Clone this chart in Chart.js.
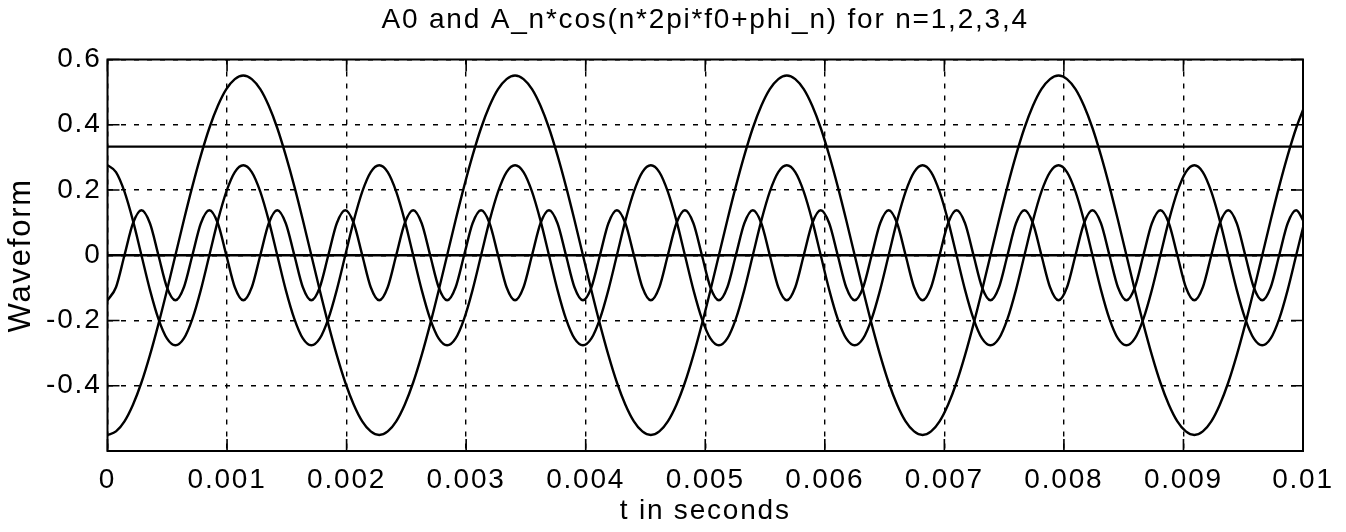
<!DOCTYPE html>
<html>
<head>
<meta charset="utf-8">
<script src="https://cdn.jsdelivr.net/npm/chart.js@4.4.0/dist/chart.umd.min.js"></script>
<style>
  html, body { margin: 0; padding: 0; background: #fff; }
  canvas { display: block; }
</style>
</head>
<body>
<canvas id="wave" width="1346" height="532"></canvas>
<script>
// sample times in microseconds (read along the time axis)
const timesUs = [
  0, 71, 142, 213, 284, 355, 426, 497,
  568, 639, 710, 781, 852, 923, 994, 1065,
  1136, 1207, 1278, 1349, 1420, 1491, 1563, 1634,
  1705, 1776, 1847, 1918, 1989, 2060, 2131, 2202,
  2273, 2344, 2415, 2486, 2557, 2628, 2699, 2770,
  2841, 2912, 2983, 3054, 3125, 3196, 3267, 3338,
  3409, 3480, 3551, 3622, 3693, 3764, 3835, 3906,
  3977, 4048, 4119, 4190, 4261, 4332, 4403, 4474,
  4545, 4616, 4687, 4759, 4830, 4901, 4972, 5043,
  5114, 5185, 5256, 5327, 5398, 5469, 5540, 5611,
  5682, 5753, 5824, 5895, 5966, 6037, 6108, 6179,
  6250, 6321, 6392, 6463, 6534, 6605, 6676, 6747,
  6818, 6889, 6960, 7031, 7102, 7173, 7244, 7315,
  7386, 7457, 7528, 7599, 7670, 7741, 7812, 7884,
  7955, 8026, 8097, 8168, 8239, 8310, 8381, 8452,
  8523, 8594, 8665, 8736, 8807, 8878, 8949, 9020,
  9091, 9162, 9233, 9304, 9375, 9446, 9517, 9588,
  9659, 9730, 9801, 9872, 9943, 10014,
];

// n=1 harmonic
const harmonic1 = [
  -0.551, -0.540, -0.509, -0.458, -0.390, -0.306, -0.211, -0.108,
  0, 0.108, 0.211, 0.306, 0.390, 0.458, 0.509, 0.540,
  0.551, 0.540, 0.509, 0.458, 0.390, 0.306, 0.211, 0.108,
  0, -0.108, -0.211, -0.306, -0.390, -0.458, -0.509, -0.540,
  -0.551, -0.540, -0.509, -0.458, -0.390, -0.306, -0.211, -0.108,
  0, 0.108, 0.211, 0.306, 0.390, 0.458, 0.509, 0.540,
  0.551, 0.540, 0.509, 0.458, 0.390, 0.306, 0.211, 0.108,
  0, -0.108, -0.211, -0.306, -0.390, -0.458, -0.509, -0.540,
  -0.551, -0.540, -0.509, -0.458, -0.390, -0.306, -0.211, -0.108,
  0, 0.108, 0.211, 0.306, 0.390, 0.458, 0.509, 0.540,
  0.551, 0.540, 0.509, 0.458, 0.390, 0.306, 0.211, 0.108,
  0, -0.108, -0.211, -0.306, -0.390, -0.458, -0.509, -0.540,
  -0.551, -0.540, -0.509, -0.458, -0.390, -0.306, -0.211, -0.108,
  0, 0.108, 0.211, 0.306, 0.390, 0.458, 0.509, 0.540,
  0.551, 0.540, 0.509, 0.458, 0.390, 0.306, 0.211, 0.108,
  0, -0.108, -0.211, -0.306, -0.390, -0.458, -0.509, -0.540,
  -0.551, -0.540, -0.509, -0.458, -0.390, -0.306, -0.211, -0.108,
  0, 0.108, 0.211, 0.306, 0.390, 0.458,
];

// n=2 harmonic
const harmonic2 = [
  0.276, 0.255, 0.195, 0.106, 0, -0.106, -0.195, -0.255,
  -0.276, -0.255, -0.195, -0.106, 0, 0.106, 0.195, 0.255,
  0.276, 0.255, 0.195, 0.106, 0, -0.106, -0.195, -0.255,
  -0.276, -0.255, -0.195, -0.106, 0, 0.106, 0.195, 0.255,
  0.276, 0.255, 0.195, 0.106, 0, -0.106, -0.195, -0.255,
  -0.276, -0.255, -0.195, -0.106, 0, 0.106, 0.195, 0.255,
  0.276, 0.255, 0.195, 0.106, 0, -0.106, -0.195, -0.255,
  -0.276, -0.255, -0.195, -0.106, 0, 0.106, 0.195, 0.255,
  0.276, 0.255, 0.195, 0.106, 0, -0.106, -0.195, -0.255,
  -0.276, -0.255, -0.195, -0.106, 0, 0.106, 0.195, 0.255,
  0.276, 0.255, 0.195, 0.106, 0, -0.106, -0.195, -0.255,
  -0.276, -0.255, -0.195, -0.106, 0, 0.106, 0.195, 0.255,
  0.276, 0.255, 0.195, 0.106, 0, -0.106, -0.195, -0.255,
  -0.276, -0.255, -0.195, -0.106, 0, 0.106, 0.195, 0.255,
  0.276, 0.255, 0.195, 0.106, 0, -0.106, -0.195, -0.255,
  -0.276, -0.255, -0.195, -0.106, 0, 0.106, 0.195, 0.255,
  0.276, 0.255, 0.195, 0.106, 0, -0.106, -0.195, -0.255,
  -0.276, -0.255, -0.195, -0.106, 0, 0.106,
];

// n=4 harmonic
const harmonic4 = [
  -0.138, -0.098, 0, 0.098, 0.138, 0.098, 0, -0.098,
  -0.138, -0.098, 0, 0.098, 0.138, 0.098, 0, -0.098,
  -0.138, -0.098, 0, 0.098, 0.138, 0.098, 0, -0.098,
  -0.138, -0.098, 0, 0.098, 0.138, 0.098, 0, -0.098,
  -0.138, -0.098, 0, 0.098, 0.138, 0.098, 0, -0.098,
  -0.138, -0.098, 0, 0.098, 0.138, 0.098, 0, -0.098,
  -0.138, -0.098, 0, 0.098, 0.138, 0.098, 0, -0.098,
  -0.138, -0.098, 0, 0.098, 0.138, 0.098, 0, -0.098,
  -0.138, -0.098, 0, 0.098, 0.138, 0.098, 0, -0.098,
  -0.138, -0.098, 0, 0.098, 0.138, 0.098, 0, -0.098,
  -0.138, -0.098, 0, 0.098, 0.138, 0.098, 0, -0.098,
  -0.138, -0.098, 0, 0.098, 0.138, 0.098, 0, -0.098,
  -0.138, -0.098, 0, 0.098, 0.138, 0.098, 0, -0.098,
  -0.138, -0.098, 0, 0.098, 0.138, 0.098, 0, -0.098,
  -0.138, -0.098, 0, 0.098, 0.138, 0.098, 0, -0.098,
  -0.138, -0.098, 0, 0.098, 0.138, 0.098, 0, -0.098,
  -0.138, -0.098, 0, 0.098, 0.138, 0.098, 0, -0.098,
  -0.138, -0.098, 0, 0.098, 0.138, 0.098,
];

// A0 and the n=3 term (zero) are flat over the whole window
const flatTimes = [0, 0.01];
const levelA0 = [0.333, 0.333];
const harmonic3 = [0, 0];

const xTicks = [0, 0.001, 0.002, 0.003, 0.004, 0.005, 0.006, 0.007, 0.008, 0.009, 0.01];
const yTicks = [-0.4, -0.2, 0, 0.2, 0.4, 0.6];

const FONT = "'Liberation Sans', Arial, Helvetica, sans-serif";

function toPoints(times, values, scale) {
  return times.map((t, i) => ({ x: t * scale, y: values[i] }));
}

function curve(label, points) {
  return {
    label,
    data: points,
    borderColor: "#000",
    borderWidth: 2.4,
    pointRadius: 0,
    cubicInterpolationMode: "monotone",
    showLine: true,
    fill: false,
  };
}

// the old printout font runs wide, so open the letters up a little
const wideText = {
  id: "wideText",
  beforeDraw(chart) {
    chart.ctx.letterSpacing = "1.8px";
  },
};

// box round the plot and MATLAB style inward ticks
const frameTicks = {
  id: "frameTicks",
  afterDatasetsDraw(chart) {
    const { ctx, chartArea: a, scales } = chart;
    ctx.save();
    ctx.setLineDash([]);
    ctx.strokeStyle = "#000";
    ctx.lineWidth = 1.6;
    ctx.beginPath();
    xTicks.forEach((v) => {
      const px = scales.x.getPixelForValue(v);
      ctx.moveTo(px, a.bottom);
      ctx.lineTo(px, a.bottom - 12);
      ctx.moveTo(px, a.top);
      ctx.lineTo(px, a.top + 12);
    });
    yTicks.forEach((v) => {
      const py = scales.y.getPixelForValue(v);
      ctx.moveTo(a.left, py);
      ctx.lineTo(a.left + 12, py);
      ctx.moveTo(a.right, py);
      ctx.lineTo(a.right - 12, py);
    });
    ctx.stroke();
    ctx.lineWidth = 2;
    ctx.strokeRect(a.left, a.top, a.right - a.left, a.bottom - a.top);
    ctx.restore();
  },
};

new Chart(document.getElementById("wave"), {
  type: "scatter",
  data: {
    datasets: [
      curve("A0", toPoints(flatTimes, levelA0, 1)),
      curve("n=1", toPoints(timesUs, harmonic1, 1e-6)),
      curve("n=2", toPoints(timesUs, harmonic2, 1e-6)),
      curve("n=3", toPoints(flatTimes, harmonic3, 1)),
      curve("n=4", toPoints(timesUs, harmonic4, 1e-6)),
    ],
  },
  options: {
    responsive: false,
    animation: false,
    devicePixelRatio: 1,
    layout: { padding: { left: 0, right: 43, top: 0, bottom: 0 } },
    plugins: {
      legend: { display: false },
      tooltip: { enabled: false },
      title: {
        display: true,
        fullSize: false,
        text: "A0 and A_n*cos(n*2pi*f0+phi_n) for n=1,2,3,4",
        color: "#000",
        font: { family: FONT, size: 28, weight: "normal", lineHeight: 1.2 },
        padding: { top: 3.2, bottom: 22.7 },
      },
    },
    scales: {
      x: {
        type: "linear",
        min: 0,
        max: 0.01,
        afterFit: (scale) => { scale.height = 81; },
        afterBuildTicks: (scale) => { scale.ticks = xTicks.map((v) => ({ value: v })); },
        ticks: {
          color: "#000",
          padding: 12,
          maxRotation: 0,
          autoSkip: false,
          font: { family: FONT, size: 28 },
          callback: (v) => String(Number(v.toFixed(3))),
        },
        grid: { color: "#000", lineWidth: 1.4, drawTicks: false },
        border: { display: false, dash: [5, 7] },
        title: {
          display: true,
          text: "t in seconds",
          color: "#000",
          font: { family: FONT, size: 28, lineHeight: 1.2 },
          padding: { top: 0, bottom: 4 },
        },
      },
      y: {
        type: "linear",
        min: -0.6,
        max: 0.6,
        afterFit: (scale) => { scale.width = 107.5; },
        afterBuildTicks: (scale) => { scale.ticks = yTicks.map((v) => ({ value: v })); },
        ticks: {
          color: "#000",
          padding: 6,
          autoSkip: false,
          font: { family: FONT, size: 28 },
          callback: (v) => String(Number(v.toFixed(1))),
        },
        grid: { color: "#000", lineWidth: 1.4, drawTicks: false },
        border: { display: false, dash: [5, 8] },
        title: {
          display: true,
          text: "Waveform",
          color: "#000",
          font: { family: FONT, size: 31, lineHeight: 1.2 },
          padding: { top: 3, bottom: 0 },
        },
      },
    },
  },
  plugins: [wideText, frameTicks],
});
</script>
</body>
</html>
